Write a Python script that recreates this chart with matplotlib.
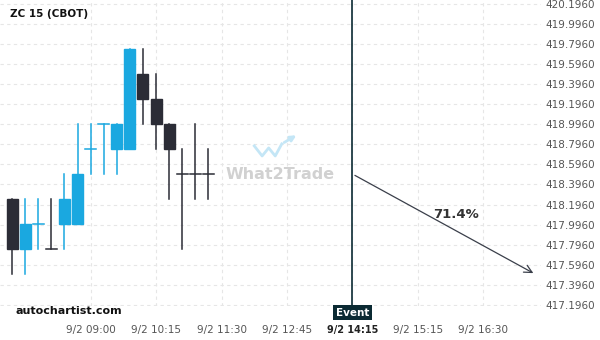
import numpy as np
import matplotlib.pyplot as plt
from matplotlib.patches import Rectangle

# 15-minute candles, ZC 15 (CBOT)
opens  = [418.25, 417.75, 418.00, 417.75, 418.00, 418.00, 418.75, 419.00, 418.75, 418.75, 419.50, 419.25, 419.00, 418.50, 418.50, 418.50]
highs  = [418.25, 418.25, 418.25, 418.25, 418.50, 419.00, 419.00, 419.00, 419.00, 419.75, 419.75, 419.50, 419.00, 418.75, 419.00, 418.75]
lows   = [417.50, 417.50, 417.75, 417.75, 417.75, 418.00, 418.50, 418.50, 418.50, 418.75, 419.00, 418.75, 418.25, 417.75, 418.25, 418.25]
closes = [417.75, 418.00, 418.00, 417.75, 418.25, 418.50, 418.75, 419.00, 419.00, 419.75, 419.25, 419.00, 418.75, 418.50, 418.50, 418.50]
bullish = [False, True, True, False, True, True, True, True, True, True, False, False, False, False, False, False]

tick_pos = [6, 11, 16, 21, 26, 31, 36]
tick_labels = ['9/2 09:00', '9/2 10:15', '9/2 11:30', '9/2 12:45', '9/2 14:15', '9/2 15:15', '9/2 16:30']
event_idx = 26
arrow_start = (26, 418.5)
arrow_end = (40, 417.5)
prob_text = '71.4%'

blue = '#1aa8e0'
dark = '#2b2c36'

fig = plt.figure(figsize=(6, 3.4), dpi=100)
ax = fig.add_axes([0, 0.1, 0.9017, 0.9])

for i in range(len(opens)):
    c = blue if bullish[i] else dark
    ax.plot([i, i], [lows[i], highs[i]], color=c, lw=1.1, zorder=3)
    lo = min(opens[i], closes[i])
    h = abs(closes[i] - opens[i])
    if h == 0:
        ax.plot([i - 0.42, i + 0.42], [opens[i], opens[i]], color=c, lw=1.1, zorder=3)
    else:
        ax.add_patch(Rectangle((i - 0.42, lo), 0.84, h, color=c, zorder=3))

ax.set_xlim(-0.92, 40.4)
ax.set_ylim(417.186, 420.233)

yt = np.arange(417.196, 420.2, 0.2)
ax.set_yticks(yt)
ax.set_yticklabels(['%.4f' % v for v in yt])
ax.yaxis.tick_right()
ax.set_xticks(tick_pos)
ax.set_xticklabels(tick_labels)
ax.tick_params(axis='both', length=0, labelsize=7.5, labelcolor='#555555')
ax.tick_params(axis='y', pad=3)
ax.tick_params(axis='x', pad=14)
for lab in ax.get_xticklabels():
    if lab.get_text() == '9/2 14:15':
        lab.set_fontweight('bold')
        lab.set_color('#222222')
        lab.set_fontsize(7)

ax.grid(True, color='#e6e6e6', ls=(0, (3, 3)), lw=0.8)
for s in ax.spines.values():
    s.set_visible(False)

# event line and label
ax.axvline(event_idx, color='#0b2a33', lw=1.2, zorder=4)
ax.text(event_idx, 417.12, 'Event', ha='center', va='center', color='white', fontsize=7.5,
        fontweight='bold', clip_on=False, zorder=5,
        bbox=dict(boxstyle='square,pad=0.25', fc='#0b2a33', ec='none'))

# forecast arrow
ax.annotate('', xy=arrow_end, xytext=arrow_start,
            arrowprops=dict(arrowstyle='->', color='#3a3f4a', lw=0.9, mutation_scale=14), zorder=4)
ax.text(33.9, 418.1, prob_text, ha='center', va='center', fontsize=9.5, fontweight='bold', color='#333333')

# watermark
ax.text(20.5, 418.5, 'What2Trade', ha='center', va='center', fontsize=11.5, fontweight='bold',
        color='#cccccc', alpha=0.9, zorder=2)
ax.plot([18.5, 19.1, 19.6, 20.1, 20.6], [418.78, 418.68, 418.76, 418.68, 418.8],
        color='#c4e6f6', lw=2.0, zorder=2)
ax.annotate('', xy=(21.9, 418.9), xytext=(20.6, 418.8),
            arrowprops=dict(arrowstyle='-|>', color='#c4e6f6', lw=2.0, mutation_scale=8), zorder=2)

fig.text(10 / 600, 1 - 14 / 340, 'ZC 15 (CBOT)', fontsize=7.5, fontweight='bold', va='center', color='#111111')
fig.text(16 / 600, 1 - 311 / 340, 'autochartist.com', fontsize=8, fontweight='bold', va='center', color='#111111')

fig.savefig('out.png', dpi=100)
